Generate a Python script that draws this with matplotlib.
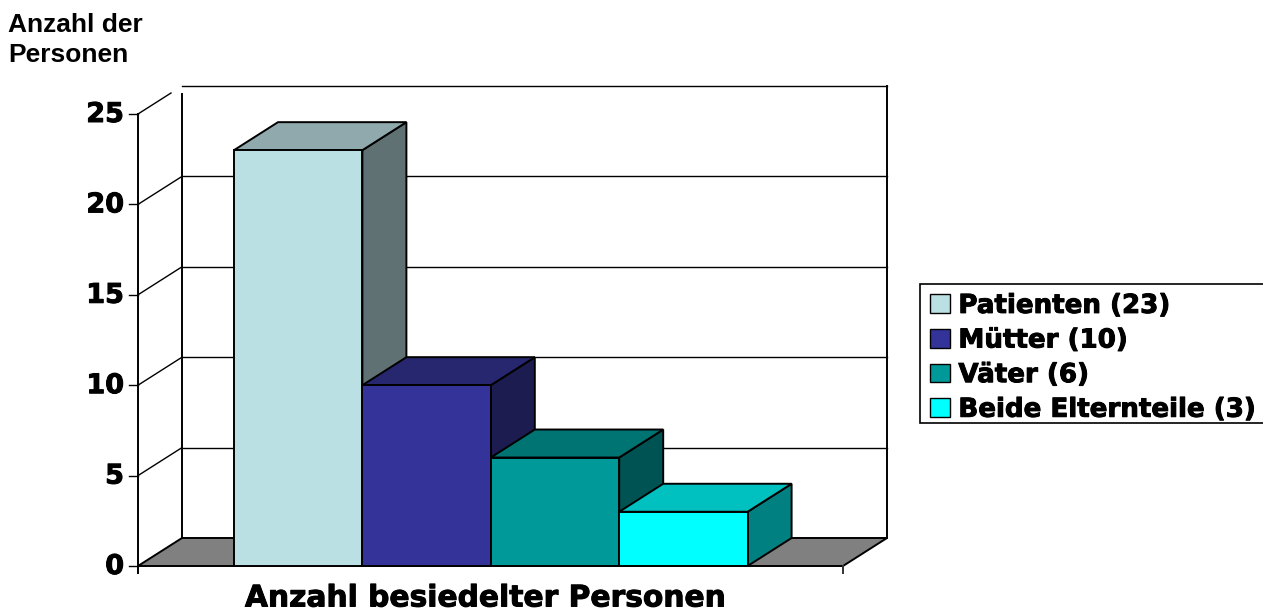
import matplotlib
matplotlib.use('Agg')  # no display
import matplotlib.pyplot as plt
import matplotlib.patheffects as pe
from matplotlib.patches import Polygon, Patch, Rectangle

# Data
categories = ['Patienten (23)', 'Mütter (10)', 'Väter (6)', 'Beide Elternteile (3)']
values = [23, 10, 6, 3]
y_ticks = [0, 5, 10, 15, 20, 25]

front_colors = ['#BAE0E3', '#333399', '#009999', '#00FFFF']
top_colors = ['#8FA9AC', '#27276F', '#007373', '#00C0C0']
side_colors = ['#5F7173', '#1C1C50', '#005353', '#008080']

# Geometry of the pseudo-3D plot, in image pixels
X_LEFT, X_RIGHT = 138, 843
Y_ZERO, Y_MAX = 566, 114
DX, DY = 44, -28
BAR_START, BAR_WIDTH = 234, 128.4
WALL = '#808080'
LW = 1.4

# DejaVu Bold is a bit lighter than the original face
HEAVY = [pe.withStroke(linewidth=0.7, foreground='black')]


def ypix(v):
    return Y_ZERO - v * (Y_ZERO - Y_MAX) / y_ticks[-1]


fig = plt.figure(figsize=(12.63, 6.10), dpi=100)
ax = fig.add_axes([0, 0, 1, 1])
ax.set_xlim(0, 1263)
ax.set_ylim(610, 0)
ax.axis('off')

# Floor
ax.add_patch(Polygon([(X_LEFT, Y_ZERO), (X_RIGHT, Y_ZERO),
                      (X_RIGHT + DX, Y_ZERO + DY), (X_LEFT + DX, Y_ZERO + DY)],
                     facecolor=WALL, edgecolor='black', lw=LW, zorder=1))

# Back wall, gridlines and the diagonals on the side wall
for t in y_ticks:
    y = ypix(t)
    if t > 0:
        ax.plot([X_LEFT + DX, X_RIGHT + DX], [y + DY, y + DY], color='black', lw=1, zorder=1)
        # the topmost diagonal stops short of the wall in the original
        frac = 0.75 if t == y_ticks[-1] else 1
        ax.plot([X_LEFT, X_LEFT + frac * DX], [y, y + frac * DY], color='black', lw=1, zorder=1)
    ax.plot([X_LEFT - 9, X_LEFT], [y, y], color='black', lw=1, zorder=2)
    ax.text(X_LEFT - 14, y + 1, str(t), ha='right', va='center', fontsize=19.5,
            fontweight='bold', family='DejaVu Sans', color='black', path_effects=HEAVY)

ax.plot([X_LEFT + DX, X_LEFT + DX], [Y_ZERO + DY, ypix(y_ticks[-1]) + 0.7 * DY],
        color='black', lw=LW, zorder=1)
ax.plot([X_RIGHT + DX, X_RIGHT + DX], [Y_ZERO + DY, ypix(y_ticks[-1]) + DY],
        color='black', lw=LW, zorder=1)
ax.plot([X_LEFT, X_LEFT], [Y_ZERO + 7, Y_MAX], color='black', lw=LW, zorder=2)
ax.plot([X_RIGHT, X_RIGHT], [Y_ZERO, Y_ZERO + 7], color='#333333', lw=LW, zorder=2)

# Bars: side and top faces first, then the front
for i, v in enumerate(values):
    x0 = BAR_START + i * BAR_WIDTH
    x1 = x0 + BAR_WIDTH
    y = ypix(v)
    ax.add_patch(Polygon([(x1, Y_ZERO), (x1 + DX, Y_ZERO + DY), (x1 + DX, y + DY), (x1, y)],
                         facecolor=side_colors[i], edgecolor='black', lw=LW, zorder=3 + i))
    ax.add_patch(Polygon([(x0, y), (x1, y), (x1 + DX, y + DY), (x0 + DX, y + DY)],
                         facecolor=top_colors[i], edgecolor='black', lw=LW, zorder=3 + i))
    ax.add_patch(Polygon([(x0, Y_ZERO), (x1, Y_ZERO), (x1, y), (x0, y)],
                         facecolor=front_colors[i], edgecolor='black', lw=LW, zorder=3 + i))

# Texts
ax.text(8, 40, 'Anzahl der\nPersonen', ha='left', va='center', fontsize=19, fontweight='bold',
        family='Liberation Sans', linespacing=1.3)
ax.text(486, 598, 'Anzahl besiedelter Personen', ha='center', va='center', fontsize=21.4,
        fontweight='bold', family='DejaVu Sans', path_effects=HEAVY)

# Legend: box drawn by hand, the automatic frame comes out too tall
ax.add_patch(Rectangle((920, 284), 350, 139, facecolor='white', edgecolor='black', lw=1.2, zorder=9))
handles = [Patch(facecolor=c, edgecolor='black', lw=1) for c in front_colors]
leg = ax.legend(handles, categories, loc='upper left', bbox_to_anchor=(920 / 1263, 1 - 283 / 610),
                borderaxespad=0, frameon=False,
                prop={'family': 'DejaVu Sans', 'weight': 'bold', 'size': 18.8},
                labelspacing=0.33, handlelength=0.77, handleheight=0.72, handletextpad=0.32,
                borderpad=0.38)
leg.set_zorder(10)
for txt in leg.get_texts():
    txt.set_path_effects(HEAVY)

fig.savefig('out.png', dpi=100)
